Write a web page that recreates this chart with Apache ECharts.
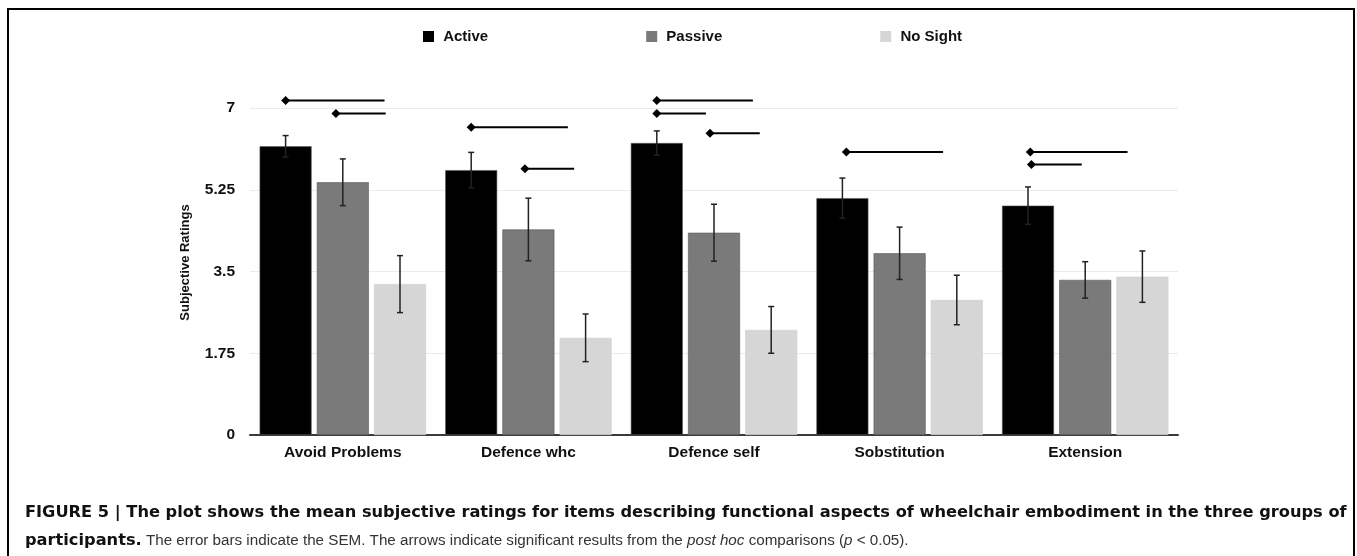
<!DOCTYPE html>
<html>
<head>
<meta charset="utf-8">
<script src="https://cdn.jsdelivr.net/npm/echarts@6/dist/echarts.min.js"></script>
<style>
  html, body { margin: 0; padding: 0; background: #fff; }
  #chart { width: 1357px; height: 556px; }
</style>
</head>
<body>
<div id="chart"></div>
<script>
// data
const categories = ["Avoid Problems", "Defence whc", "Defence self", "Sobstitution", "Extension"];
const seriesNames = ["Active", "Passive", "No Sight"];
const activeMean = [6.18, 5.67, 6.25, 5.07, 4.91];
const activeSem = [0.23, 0.38, 0.26, 0.43, 0.40];
const passiveMean = [5.41, 4.40, 4.33, 3.89, 3.32];
const passiveSem = [0.50, 0.67, 0.61, 0.56, 0.39];
const noSightMean = [3.23, 2.08, 2.25, 2.89, 3.39];
const noSightSem = [0.61, 0.51, 0.50, 0.53, 0.55];
const yTicks = [0, 1.75, 3.5, 5.25, 7];
// significance arrows: [category, start bar pos, end bar pos, height]
const sigArrows = [
    [0, 0, 1.73, 7.16],
    [0, 0.88, 1.75, 6.88],
    [1, 0, 1.69, 6.59],
    [1, 0.94, 1.8, 5.70],
    [2, 0, 1.68, 7.16],
    [2, 0, 0.86, 6.88],
    [2, 0.93, 1.8, 6.46],
    [3, 0.07, 1.76, 6.06],
    [4, 0.04, 1.74, 6.06],
    [4, 0.06, 0.94, 5.79]
];

const captionBold = "FIGURE 5 | The plot shows the mean subjective ratings for items describing functional aspects of wheelchair embodiment in the three groups of";
const captionLead = "participants.";
const captionRest = [" The error bars indicate the SEM. The arrows indicate significant results from the ", "post hoc", " comparisons (", "p", " < 0.05)."];

const colors = ["#000000", "#7a7a7a", "#d6d6d6"];
const barWidth = 52;
const barGapRatio = 0.1;
const step = barWidth * (1 + barGapRatio);
const font = "'Liberation Sans', Arial, Helvetica, sans-serif";
const capBoldFont = "'DejaVu Sans', sans-serif";

// size the bold caption line so it spans the same width as in the figure
const ctx = document.createElement("canvas").getContext("2d");
function widthAt(text, weight, family) {
    ctx.font = weight + " 100px " + family;
    return ctx.measureText(text).width / 100;
}
const boldSize = 1322 / widthAt(captionBold, "bold", capBoldFont);
const normalSize = 15.2;

const chart = echarts.init(document.getElementById("chart"));

function barSeries(idx, means) {
    return {
        name: seriesNames[idx],
        type: "bar",
        data: means,
        barWidth: barWidth,
        barGap: (barGapRatio * 100) + "%",
        itemStyle: {
            color: colors[idx],
            borderColor: idx === 2 ? "#cfcfcf" : "#5a5a5a",
            borderWidth: 0.6
        },
        animation: false
    };
}

function errorSeries(idx, means, sems) {
    return {
        type: "custom",
        z: 5,
        silent: true,
        animation: false,
        data: means.map((m, i) => [i, m, sems[i]]),
        renderItem(params, api) {
            const c = api.value(0);
            const m = api.value(1);
            const s = api.value(2);
            const x = api.coord([c, m])[0] + (idx - 1) * step;
            const yTop = api.coord([c, m + s])[1];
            const yBot = api.coord([c, m - s])[1];
            const st = { stroke: "#222", lineWidth: 1.5 };
            return {
                type: "group",
                children: [
                    { type: "line", shape: { x1: x, y1: yTop, x2: x, y2: yBot }, style: st },
                    { type: "line", shape: { x1: x - 3, y1: yTop, x2: x + 3, y2: yTop }, style: st },
                    { type: "line", shape: { x1: x - 3, y1: yBot, x2: x + 3, y2: yBot }, style: st }
                ]
            };
        }
    };
}

const sigSeries = {
    type: "custom",
    z: 6,
    silent: true,
    animation: false,
    clip: false,
    data: sigArrows,
    renderItem(params, api) {
        const c = api.value(0);
        const y = api.value(3);
        const p = api.coord([c, y]);
        const x0 = p[0] + (api.value(1) - 1) * step;
        const x1 = p[0] + (api.value(2) - 1) * step;
        const d = 4.5;
        return {
            type: "group",
            children: [
                { type: "line", shape: { x1: x0, y1: p[1], x2: x1, y2: p[1] }, style: { stroke: "#000", lineWidth: 2 } },
                { type: "polygon", shape: { points: [[x0 - d, p[1]], [x0, p[1] - d], [x0 + d, p[1]], [x0, p[1] + d]] }, style: { fill: "#000" } }
            ]
        };
    }
};

chart.setOption({
    animation: false,
    textStyle: { fontFamily: font },
    legend: {
        data: seriesNames,
        left: 423,
        top: 29,
        padding: 0,
        itemGap: 158,
        itemWidth: 11,
        itemHeight: 11,
        icon: "rect",
        formatter: " {name}",
        itemStyle: { borderWidth: 0 },
        textStyle: { fontFamily: font, fontSize: 15, fontWeight: "bold", color: "#111" }
    },
    grid: {
        left: 250,
        right: 179,
        top: 108,
        bottom: 121,
        containLabel: false
    },
    xAxis: {
        type: "category",
        data: categories,
        axisTick: { show: false },
        axisLine: { lineStyle: { color: "#3a3a3a", width: 2 } },
        axisLabel: { fontFamily: font, fontSize: 15.5, fontWeight: "bold", color: "#111", margin: 10 }
    },
    yAxis: {
        type: "value",
        min: yTicks[0],
        max: yTicks[yTicks.length - 1],
        interval: yTicks[1] - yTicks[0],
        name: "Subjective Ratings",
        nameLocation: "middle",
        nameGap: 58,
        nameTextStyle: { fontFamily: font, fontSize: 13, fontWeight: "bold", color: "#111", padding: [0, 0, 0, 18] },
        axisLine: { show: false },
        axisTick: { show: false },
        axisLabel: { fontFamily: font, fontSize: 15.5, fontWeight: "bold", color: "#111", margin: 15 },
        splitLine: { lineStyle: { color: "#ebebeb", width: 1 } }
    },
    graphic: [
        {
            type: "rect",
            shape: { x: 8, y: 9, width: 1346, height: 560 },
            style: { fill: "none", stroke: "#000", lineWidth: 2 },
            silent: true
        },
        {
            type: "text",
            left: 25,
            top: 505,
            style: {
                text: "{b|" + captionBold + "}",
                rich: {
                    b: { fontFamily: capBoldFont, fontSize: boldSize, fontWeight: "bold", fill: "#111", lineHeight: 20 }
                }
            }
        },
        {
            type: "text",
            left: 25,
            top: 533,
            style: {
                text: "{b|" + captionLead + "}{n|" + captionRest[0] + "}{i|" + captionRest[1] + "}{n|" + captionRest[2] +
                    "}{i|" + captionRest[3] + "}{n|" + captionRest[4] + "}",
                rich: {
                    b: { fontFamily: capBoldFont, fontSize: boldSize, fontWeight: "bold", fill: "#111", lineHeight: 20 },
                    n: { fontFamily: font, fontSize: normalSize, fill: "#333", lineHeight: 20 },
                    i: { fontFamily: font, fontSize: normalSize, fontStyle: "italic", fill: "#333", lineHeight: 20 }
                }
            }
        }
    ],
    series: [
        barSeries(0, activeMean),
        barSeries(1, passiveMean),
        barSeries(2, noSightMean),
        errorSeries(0, activeMean, activeSem),
        errorSeries(1, passiveMean, passiveSem),
        errorSeries(2, noSightMean, noSightSem),
        sigSeries
    ]
});
</script>
</body>
</html>
